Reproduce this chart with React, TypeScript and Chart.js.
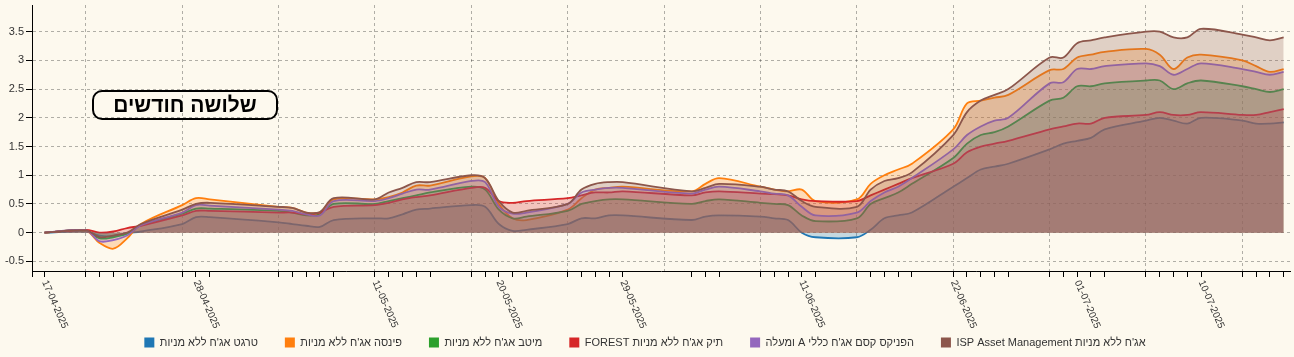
import React, { useEffect, useRef } from 'react';
import { Chart, registerables } from 'chart.js';

Chart.register(...registerables);

const dates = [
  '17-04-2025', '20-04-2025', '21-04-2025', '22-04-2025', '23-04-2025', '24-04-2025', '27-04-2025', '28-04-2025', '29-04-2025',
  '04-05-2025', '05-05-2025', '06-05-2025', '07-05-2025', '08-05-2025', '11-05-2025', '12-05-2025', '13-05-2025', '14-05-2025', '15-05-2025',
  '18-05-2025', '19-05-2025', '20-05-2025', '21-05-2025', '22-05-2025', '25-05-2025', '26-05-2025', '27-05-2025', '28-05-2025', '29-05-2025',
  '03-06-2025', '04-06-2025', '05-06-2025', '08-06-2025', '09-06-2025', '10-06-2025', '11-06-2025', '12-06-2025', '15-06-2025', '16-06-2025',
  '17-06-2025', '18-06-2025', '19-06-2025', '22-06-2025', '23-06-2025', '24-06-2025', '25-06-2025', '26-06-2025', '29-06-2025', '30-06-2025',
  '01-07-2025', '02-07-2025', '03-07-2025', '06-07-2025', '07-07-2025', '08-07-2025', '09-07-2025', '10-07-2025', '13-07-2025', '14-07-2025',
  '15-07-2025', '16-07-2025',
];

const seriesNames = [
  "טרגט אג'ח ללא מניות",
  "פינסה אג'ח ללא מניות",
  "מיטב אג'ח ללא מניות",
  "תיק אג'ח ללא מניות FOREST",
  "הפניקס קסם אג'ח כללי A ומעלה",
  "אג'ח ללא מניות ISP Asset Management",
];

const seriesColors = ['#1f77b4', '#ff7f0e', '#2ca02c', '#d62728', '#9467bd', '#8c564b'];

const target = [0, 0.02, -0.05, -0.06, -0.01, 0.02, 0.15, 0.27, 0.27, 0.18, 0.15, 0.12, 0.1, 0.22, 0.25, 0.25, 0.32, 0.4, 0.42, 0.48, 0.45, 0.15, 0.03, 0.05, 0.15, 0.25, 0.25, 0.3, 0.3, 0.22, 0.28, 0.3, 0.28, 0.25, 0.22, 0.0, -0.08, -0.08, 0.05, 0.25, 0.3, 0.35, 0.8, 0.95, 1.1, 1.15, 1.2, 1.45, 1.55, 1.6, 1.65, 1.8, 1.95, 2.0, 1.95, 1.9, 2.0, 1.95, 1.9, 1.9, 1.92];
const finsa = [0, 0.03, -0.18, -0.28, -0.1, 0.15, 0.48, 0.6, 0.58, 0.45, 0.43, 0.35, 0.35, 0.58, 0.58, 0.62, 0.7, 0.82, 0.82, 0.98, 0.95, 0.5, 0.25, 0.22, 0.4, 0.6, 0.75, 0.78, 0.8, 0.72, 0.85, 0.95, 0.8, 0.75, 0.72, 0.75, 0.55, 0.58, 0.85, 1.0, 1.1, 1.2, 1.8, 2.25, 2.3, 2.35, 2.4, 2.83, 2.85, 3.05, 3.1, 3.15, 3.2, 3.1, 2.85, 3.05, 3.1, 3.0, 2.9, 2.8, 2.85];
const meitav = [0, 0.04, -0.1, -0.08, -0.02, 0.13, 0.33, 0.42, 0.42, 0.38, 0.35, 0.3, 0.32, 0.5, 0.5, 0.55, 0.6, 0.65, 0.7, 0.8, 0.75, 0.4, 0.25, 0.28, 0.38, 0.5, 0.55, 0.58, 0.58, 0.5, 0.55, 0.58, 0.52, 0.5, 0.48, 0.3, 0.2, 0.25, 0.5, 0.6, 0.7, 0.85, 1.3, 1.55, 1.7, 1.75, 1.85, 2.3, 2.35, 2.55, 2.55, 2.6, 2.65, 2.65, 2.5, 2.6, 2.65, 2.55, 2.5, 2.45, 2.5];
const forest = [0, 0.05, 0.0, 0.02, 0.08, 0.12, 0.3, 0.38, 0.38, 0.35, 0.35, 0.32, 0.35, 0.45, 0.48, 0.52, 0.58, 0.62, 0.65, 0.78, 0.78, 0.55, 0.52, 0.55, 0.6, 0.65, 0.7, 0.7, 0.72, 0.65, 0.7, 0.72, 0.68, 0.67, 0.65, 0.58, 0.55, 0.55, 0.65, 0.75, 0.85, 0.95, 1.2, 1.4, 1.5, 1.55, 1.6, 1.8, 1.85, 1.9, 1.9, 2.0, 2.05, 2.1, 2.05, 2.05, 2.1, 2.05, 2.05, 2.1, 2.15];
const phoenix = [0, 0.04, -0.15, -0.13, -0.05, 0.13, 0.35, 0.48, 0.47, 0.4, 0.38, 0.32, 0.3, 0.55, 0.55, 0.6, 0.68, 0.75, 0.75, 0.9, 0.88, 0.45, 0.33, 0.35, 0.5, 0.7, 0.75, 0.78, 0.78, 0.68, 0.75, 0.8, 0.72, 0.68, 0.65, 0.45, 0.3, 0.35, 0.55, 0.7, 0.8, 0.95, 1.45, 1.7, 1.85, 1.95, 2.0, 2.6, 2.62, 2.85, 2.85, 2.9, 2.95, 2.9, 2.75, 2.85, 2.95, 2.85, 2.8, 2.75, 2.8];
const isp = [0, 0.04, -0.08, -0.05, 0.0, 0.15, 0.4, 0.5, 0.52, 0.45, 0.43, 0.35, 0.36, 0.6, 0.58, 0.7, 0.78, 0.88, 0.88, 1.0, 0.95, 0.55, 0.35, 0.38, 0.5, 0.75, 0.85, 0.88, 0.88, 0.72, 0.78, 0.85, 0.8, 0.75, 0.72, 0.55, 0.45, 0.45, 0.75, 0.9, 0.95, 1.05, 1.7, 2.1, 2.3, 2.4, 2.5, 3.05, 3.05, 3.3, 3.35, 3.4, 3.5, 3.5, 3.4, 3.4, 3.55, 3.45, 3.4, 3.35, 3.4];

const labeledDates = ['17-04-2025', '28-04-2025', '11-05-2025', '20-05-2025', '29-05-2025', '11-06-2025', '22-06-2025', '01-07-2025', '10-07-2025'];
const yTicks = [-0.5, 0, 0.5, 1, 1.5, 2, 2.5, 3, 3.5];
const badgeText = 'שלושה חודשים';

const BG = '#fdf9ee';
const FONT = '"Liberation Sans", Arial, sans-serif';
const X_MIN = -0.91;
const X_MAX = 90.46;
const RLE = '\u202B';
const PDF = '\u202C';

function dayOffset(s: string): number {
  const [d, m, y] = s.split('-').map(Number);
  return Math.round((Date.UTC(y, m - 1, d) - Date.UTC(2025, 3, 17)) / 86400000);
}

function hexToRgba(hex: string, a: number): string {
  const n = parseInt(hex.slice(1), 16);
  return `rgba(${(n >> 16) & 255},${(n >> 8) & 255},${n & 255},${a})`;
}

const dataDays = dates.map(dayOffset);
const isSunday = (v: number) => Number.isInteger(v) && ((v % 7) + 7) % 7 === 3;

function buildXTicks(): number[] {
  const set = new Set<number>(dataDays);
  for (let v = 3; v <= X_MAX; v += 7) set.add(v);
  const arr = Array.from(set).sort((a, b) => a - b);
  return [X_MIN, ...arr];
}

const xLabelPlugin = {
  id: 'rotatedXLabels',
  afterDraw(chart: any) {
    const { ctx } = chart;
    const x = chart.scales.x;
    ctx.save();
    ctx.direction = 'ltr';
    ctx.font = `10px ${FONT}`;
    ctx.fillStyle = '#333';
    ctx.textAlign = 'left';
    ctx.textBaseline = 'middle';
    labeledDates.forEach((s) => {
      const px = x.getPixelForValue(dayOffset(s));
      ctx.save();
      ctx.translate(px, x.top + 10);
      ctx.rotate((66.5 * Math.PI) / 180);
      ctx.fillText(s, 0, 0);
      ctx.restore();
    });
    ctx.restore();
  },
};

export default function App() {
  const canvasRef = useRef<HTMLCanvasElement | null>(null);

  useEffect(() => {
    document.body.style.margin = '0';
    document.body.style.background = BG;
    const canvas = canvasRef.current;
    if (!canvas) return;
    const all = [target, finsa, meitav, forest, phoenix, isp];
    const datasets = all.map((arr, i) => ({
      label: seriesNames[i],
      data: arr.map((v, j) => ({ x: dataDays[j], y: v })),
      borderColor: seriesColors[i],
      backgroundColor: hexToRgba(seriesColors[i], 0.25),
      borderWidth: 1.8,
      pointRadius: 0,
      tension: 0.35,
      fill: 'origin',
      order: all.length - i,
    }));
    const chart = new Chart(canvas, {
      type: 'line',
      data: { datasets },
      plugins: [xLabelPlugin],
      options: {
        animation: false,
        responsive: true,
        maintainAspectRatio: false,
        layout: { padding: { top: 5, right: 4, left: 0, bottom: -1 } },
        font: { family: FONT },
        plugins: {
          tooltip: { enabled: false },
          legend: {
            position: 'bottom',
            reverse: true,
            labels: {
              boxWidth: 10,
              boxHeight: 10,
              padding: 27,
              color: '#333',
              font: { size: 11, family: FONT },
              generateLabels: (ch: any) => {
                const items = Chart.defaults.plugins.legend.labels.generateLabels(ch);
                items.forEach((it: any) => {
                  const c = seriesColors[it.datasetIndex];
                  it.text = RLE + it.text + PDF;
                  it.fillStyle = c;
                  it.strokeStyle = c;
                  it.lineWidth = 0;
                });
                return items;
              },
            },
          },
        },
        scales: {
          x: {
            type: 'linear',
            min: X_MIN,
            max: X_MAX,
            afterBuildTicks: (scale: any) => {
              scale.ticks = buildXTicks().map((v) => ({ value: v }));
            },
            afterFit: (scale: any) => {
              scale.height = 39;
              scale.paddingLeft = 0;
              scale.paddingRight = 0;
            },
            ticks: { display: false },
            grid: {
              color: (c: any) => (c.tick && isSunday(c.tick.value) ? 'rgba(0,0,0,0.3)' : 'rgba(0,0,0,0)'),
              tickColor: (c: any) => (c.tick && c.tick.value === 45 ? 'rgba(0,0,0,0)' : '#000'),
              tickLength: 6,
              lineWidth: 1,
            },
            border: { display: true, color: '#000', width: 1, dash: [3, 3] },
          },
          y: {
            type: 'linear',
            min: -0.668,
            max: 3.965,
            afterBuildTicks: (scale: any) => {
              scale.ticks = yTicks.map((v) => ({ value: v }));
            },
            afterFit: (scale: any) => {
              scale.width = 32;
              scale.paddingTop = 0;
              scale.paddingBottom = 0;
            },
            ticks: {
              color: '#333',
              font: { size: 11, family: FONT },
              padding: 2,
              callback: (v: any) => String(v),
            },
            grid: {
              color: 'rgba(0,0,0,0.3)',
              tickColor: '#000',
              tickLength: 6,
            },
            border: { display: true, color: '#000', width: 1, dash: [3, 3] },
          },
        },
      },
    } as any);
    return () => chart.destroy();
  }, []);

  return (
    <div style={{ position: 'relative', width: 1294, height: 357, background: BG }}>
      <canvas ref={canvasRef} />
      <div
        style={{
          position: 'absolute',
          left: 92,
          top: 90,
          width: 186,
          height: 30,
          boxSizing: 'border-box',
          border: '2px solid #000',
          borderRadius: 10,
          fontFamily: FONT,
          fontWeight: 'bold',
          fontSize: 21,
          lineHeight: '26px',
          textAlign: 'center',
          direction: 'rtl',
          color: '#000',
          pointerEvents: 'none',
        }}
      >
        {badgeText}
      </div>
    </div>
  );
}
